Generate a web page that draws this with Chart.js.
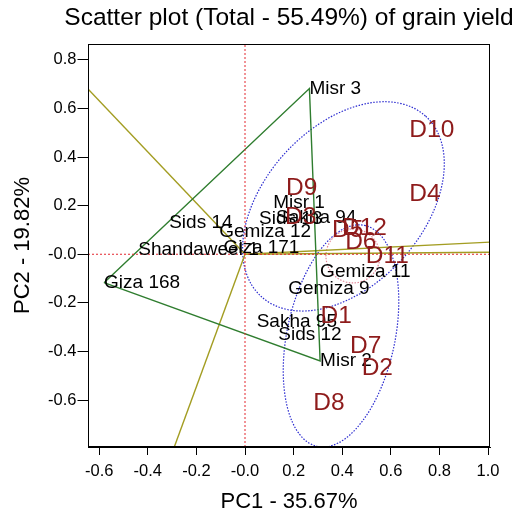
<!DOCTYPE html>
<html>
<head>
<meta charset="utf-8">
<title>Scatter plot (Total - 55.49%) of grain yield</title>
<script src="https://cdn.jsdelivr.net/npm/chart.js@4.4.1/dist/chart.umd.min.js"></script>
<style>
  html, body { margin: 0; padding: 0; background: #fff; }
  #wrap { width: 521px; height: 515px; }
</style>
</head>
<body>
<div id="wrap"><canvas id="biplot" width="521" height="515"></canvas></div>
<script>
// genotype scores (PC1, PC2) - label anchor is left end of the text
const genotypes = ['Misr 1', 'Misr 2', 'Misr 3', 'Sids 12', 'Sids 13', 'Sids 14', 'Gemiza 9',
  'Gemiza 11', 'Gemiza 12', 'Giza 168', 'Giza 171', 'Sakha 94', 'Sakha 95', 'Shandaweel 1'];
const genoPC1 = [0.116, 0.309, 0.265, 0.137, 0.058, -0.312, 0.178, 0.309, -0.106, -0.580, -0.089, 0.128, 0.048, -0.439];
const genoPC2 = [0.210, -0.439, 0.682, -0.332, 0.145, 0.128, -0.140, -0.074, 0.093, -0.117, 0.025, 0.149, -0.277, 0.018];

// environment scores
const envs = ['D1', 'D2', 'D3', 'D4', 'D5', 'D6', 'D7', 'D8', 'D9', 'D10', 'D11', 'D12'];
const envPC1 = [0.311, 0.480, 0.165, 0.676, 0.358, 0.412, 0.432, 0.281, 0.169, 0.676, 0.497, 0.399];
const envPC2 = [-0.254, -0.469, 0.153, 0.248, 0.100, 0.048, -0.380, -0.613, 0.272, 0.512, -0.010, 0.108];

// which-won-where polygon (vertex genotypes, closed)
const hullNames = ['Giza 168', 'Misr 3', 'Misr 2', 'Giza 168'];

// rays from origin, end points on the plot border
const rayPC1 = [-0.646, -0.291, 1.008, 1.008];
const rayPC2 = [0.680, -0.793, 0.050, 0.008];

// group ellipses: centre, semi axes, angle (deg)
const ellCx = [0.405, 0.395, 0.444];
const ellCy = [0.197, -0.336, -0.007];
const ellA = [0.502, 0.465, 0.111];
const ellB = [0.325, 0.222, 0.111];
const ellAngle = [47.6, 78, 0];

const xTicks = [-0.6, -0.4, -0.2, 0.0, 0.2, 0.4, 0.6, 0.8, 1.0];
const yTicks = [-0.6, -0.4, -0.2, 0.0, 0.2, 0.4, 0.6, 0.8];
const xRange = [-0.646, 1.008];
const yRange = [-0.793, 0.865];

const FONT = "'Liberation Sans', Arial, Helvetica, sans-serif";
const GREEN = '#2f7d2f';
const OLIVE = '#a39d22';
const AXRED = '#e3262f';
const DKRED = '#8e1b1b';
const ELL_COLORS = ['#2b2bd0', '#2b2bd0', '#e28597'];

const fmt = (v) => (Math.abs(v) < 1e-9 ? '-0.0' : v.toFixed(1));

const pt = (x, y) => ({ x: x, y: y });
const genoPts = genotypes.map((g, i) => pt(genoPC1[i], genoPC2[i]));
const envPts = envs.map((e, i) => pt(envPC1[i], envPC2[i]));
const hullPts = hullNames.map((n) => genoPts[genotypes.indexOf(n)]);

const lineDs = (data, color, width, dash) => ({
  type: 'scatter', data: data, showLine: true, borderColor: color, borderWidth: width,
  borderDash: dash || [], pointRadius: 0, fill: false, tension: 0
});

const datasets = [
  lineDs([pt(0, yRange[0]), pt(0, yRange[1])], AXRED, 1, [2, 2]),
  lineDs([pt(xRange[0], 0), pt(xRange[1], 0)], AXRED, 1, [2, 2]),
  lineDs(hullPts, GREEN, 1.4)
];
rayPC1.forEach((x, i) => datasets.push(lineDs([pt(0, 0), pt(x, rayPC2[i])], OLIVE, 1.4)));
datasets.push({ label: 'genotypes', data: genoPts, pointRadius: 0, names: genotypes });
datasets.push({ label: 'environments', data: envPts, pointRadius: 0, names: envs });

// ellipses, labels, frame and title
const biplotDecor = {
  id: 'biplotDecor',
  beforeDatasetsDraw(chart) {
    const { ctx, chartArea: a, scales: { x, y } } = chart;
    const unit = x.getPixelForValue(1) - x.getPixelForValue(0);
    ctx.save();
    ctx.beginPath();
    ctx.rect(a.left, a.top, a.right - a.left, a.bottom - a.top);
    ctx.clip();
    ctx.lineWidth = 1.2;
    ctx.setLineDash([1.5, 1.5]);
    ellCx.forEach((cx, i) => {
      ctx.strokeStyle = ELL_COLORS[i];
      ctx.beginPath();
      ctx.ellipse(x.getPixelForValue(cx), y.getPixelForValue(ellCy[i]),
        ellA[i] * unit, ellB[i] * unit, -ellAngle[i] * Math.PI / 180, 0, Math.PI * 2);
      ctx.stroke();
    });
    ctx.restore();
  },
  afterDatasetsDraw(chart) {
    const { ctx, chartArea: a, scales: { x, y } } = chart;
    ctx.save();
    ctx.textAlign = 'left';
    ctx.textBaseline = 'middle';
    chart.data.datasets.forEach((ds) => {
      if (!ds.names) return;
      const isEnv = ds.label === 'environments';
      ctx.fillStyle = isEnv ? DKRED : '#000';
      ctx.font = (isEnv ? '24.5px ' : '19px ') + FONT;
      ds.data.forEach((p, i) => {
        ctx.fillText(ds.names[i], x.getPixelForValue(p.x), y.getPixelForValue(p.y));
      });
    });
    ctx.strokeStyle = '#000';
    ctx.lineWidth = 1;
    ctx.strokeRect(Math.round(a.left) + 0.5, Math.round(a.top) + 0.5,
      Math.round(a.right - a.left) - 1, Math.round(a.bottom - a.top) - 1);
    ctx.fillStyle = '#000';
    ctx.textAlign = 'center';
    ctx.font = '24.5px ' + FONT;
    ctx.fillText('Scatter plot (Total - 55.49%) of grain yield', (a.left + a.right) / 2, 18);
    ctx.restore();
  }
};

const axisCommon = (ticks, tickLen, pad) => ({
  type: 'linear',
  afterBuildTicks: (s) => { s.ticks = ticks.map((v) => ({ value: v })); },
  ticks: { color: '#000', font: { family: FONT, size: 16.5 }, padding: pad, callback: (v) => fmt(v) },
  grid: { drawOnChartArea: false, drawTicks: true, tickLength: tickLen, color: '#000', tickColor: '#000' },
  border: { display: true, color: '#000', width: 1 }
});

const xScale = Object.assign(axisCommon(xTicks, 8, 7), {
  min: xRange[0], max: xRange[1],
  title: { display: true, text: 'PC1 - 35.67%', color: '#000', font: { family: FONT, size: 22 }, padding: { top: 0, bottom: 0 } },
  afterFit: (s) => { s.height = 68; }
});
const yScale = Object.assign(axisCommon(yTicks, 10.5, 1), {
  min: yRange[0], max: yRange[1],
  title: { display: true, text: 'PC2 - 19.82%', color: '#000', font: { family: FONT, size: 22 }, padding: { top: 10, bottom: 0 } },
  afterFit: (s) => { s.width = 88; }
});

new Chart(document.getElementById('biplot').getContext('2d'), {
  type: 'scatter',
  data: { datasets: datasets },
  options: {
    responsive: false,
    animation: false,
    layout: { padding: { top: 44, right: 31, bottom: 0, left: 0 } },
    plugins: { legend: { display: false }, tooltip: { enabled: false } },
    scales: { x: xScale, y: yScale }
  },
  plugins: [biplotDecor]
});
</script>
</body>
</html>
